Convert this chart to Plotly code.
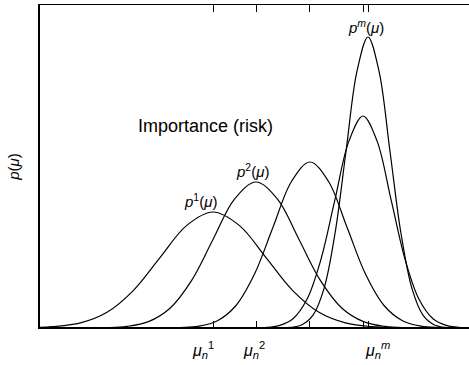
import plotly.graph_objects as go

# Curve samples (x in mu units, y in density units)
p1_x = [0, 12, 40.5, 67, 93.5, 120, 146.5, 173, 199.5, 226, 252.5, 279, 305.5, 332, 358.5, 429]
p1_y = [0.6, 1.3, 5.1, 15.7, 37.7, 70.4, 102.4, 116, 102.4, 70.4, 37.7, 15.7, 5.1, 1.3, 0.26, 0]

p2_x = [0, 65.5, 87, 108.5, 130, 151.5, 173, 194.5, 216, 237.5, 259, 280.5, 302, 323.5, 345, 366.5, 429]
p2_y = [0, 0.3, 1.6, 6.4, 19.8, 47.4, 88.5, 128.8, 146, 128.8, 88.5, 47.4, 19.8, 6.4, 1.6, 0.3, 0]

p3_x = [0, 140.5, 159, 177.5, 196, 214.5, 233, 251.5, 270, 288.5, 307, 325.5, 344, 362.5, 381, 399.5, 429]
p3_y = [0, 0.4, 1.8, 7.3, 22.5, 53.9, 100.7, 146.5, 166, 146.5, 100.7, 53.9, 22.5, 7.3, 1.8, 0.4, 0]

p4_x = [0, 225, 239, 253, 267, 281, 295, 309, 323, 337, 351, 365, 379, 393, 407, 421, 429]
p4_y = [0, 0.5, 2.4, 9.3, 28.7, 68.8, 128.6, 187.1, 212, 187.1, 128.6, 68.8, 28.7, 9.3, 2.4, 0.5, 0.2]

p5_x = [0, 251, 262, 273, 284, 295, 306, 317, 328, 339, 350, 361, 372, 383, 394, 405, 429]
p5_y = [0, 0.6, 3.2, 12.8, 39.4, 94.5, 176.5, 256.8, 291, 256.8, 176.5, 94.5, 39.4, 12.8, 3.2, 0.6, 0]

tick_vals = [173, 216, 269, 323, 328]
label_x = [163, 214, 337]
label_text = ["<i>μ<sub>n</sub></i><sup>1</sup>", "<i>μ<sub>n</sub></i><sup>2</sup>", "<i>μ<sub>n</sub><sup>m</sup></i>"]

curve_labels = [
    (160, 128, "<i>p</i><sup>1</sup>(<i>μ</i>)"),
    (212, 158, "<i>p</i><sup>2</sup>(<i>μ</i>)"),
    (326, 302, "<i>p<sup>m</sup></i>(<i>μ</i>)"),
]

FONT = "Liberation Sans, Arial, Helvetica, sans-serif"

fig = go.Figure()
for xs, ys in [(p1_x, p1_y), (p2_x, p2_y), (p3_x, p3_y), (p4_x, p4_y), (p5_x, p5_y)]:
    fig.add_trace(go.Scatter(x=xs, y=ys, mode="lines",
                             line=dict(color="black", width=1.2, shape="spline", smoothing=1.0),
                             showlegend=False, hoverinfo="skip"))

for x, t in zip(label_x, label_text):
    fig.add_annotation(x=x, y=0, xref="x", yref="paper", yshift=-22, text=t,
                       showarrow=False, xanchor="center", yanchor="middle",
                       font=dict(family=FONT, size=16, color="black"))

for x, y, t in curve_labels:
    fig.add_annotation(x=x, y=y, xref="x", yref="y", text=t, showarrow=False,
                       xanchor="center", yanchor="middle",
                       font=dict(family=FONT, size=15, color="black"))

fig.add_annotation(x=165, y=202, xref="x", yref="y", text="Importance (risk)",
                   showarrow=False, xanchor="center", yanchor="middle",
                   font=dict(family=FONT, size=18, color="black"))

# thicker bottom axis line
fig.add_shape(type="line", xref="paper", yref="paper", x0=0, x1=1, y0=0, y1=0,
              line=dict(color="black", width=2.2))

fig.update_xaxes(range=[0, 429], showgrid=False, zeroline=False,
                 showline=True, linecolor="black", linewidth=1.2, mirror="ticks",
                 ticks="inside", ticklen=7, tickwidth=1, tickcolor="black",
                 tickvals=tick_vals, showticklabels=False)
fig.update_yaxes(range=[0, 323], showgrid=False, zeroline=False,
                 showline=True, linecolor="black", linewidth=1.5,
                 ticks="", showticklabels=False,
                 title=dict(text="<i>p</i>(<i>μ</i>)", standoff=15,
                            font=dict(family=FONT, size=15, color="black")))

fig.update_layout(width=469, height=365, margin=dict(l=40, r=0, t=5, b=37),
                  plot_bgcolor="white", paper_bgcolor="white",
                  font=dict(family=FONT, color="black"))

fig.write_html("out.html")
